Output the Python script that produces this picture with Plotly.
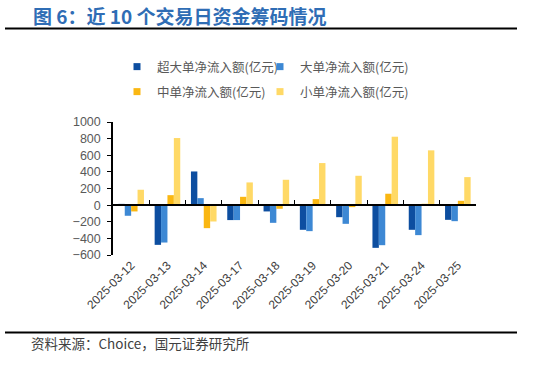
import plotly.graph_objects as go

dates = ["2025-03-12", "2025-03-13", "2025-03-14", "2025-03-17", "2025-03-18",
         "2025-03-19", "2025-03-20", "2025-03-21", "2025-03-24", "2025-03-25"]
super_large = [15, -478, 405, -180, -76, -297, -145, -514, -297, -177]
large = [-128, -450, 84, -180, -213, -313, -225, -482, -361, -193]
medium = [-76, 120, -277, 100, -44, 72, -24, 137, 16, 52]
small = [185, 807, -197, 273, 305, 506, 353, 823, 659, 337]

names = ["超大单净流入额(亿元)", "大单净流入额(亿元)", "中单净流入额(亿元)", "小单净流入额(亿元)"]
colors = ["#0D4EA0", "#3D88D4", "#FAB712", "#FFD966"]
series = [super_large, large, medium, small]
legend_ids = ["legend", "legend2", "legend3", "legend4"]

W, H = 533, 367
L, R, T, B = 113, 57, 122, 112
PW, PH = W - L - R, H - T - B

def px(x):
    return (x - L) / PW

def py(y):
    return (H - B - y) / PH

fig = go.Figure()
for name, col, vals in zip(names, colors, series):
    fig.add_trace(go.Bar(x=dates, y=vals, name=name, marker_color=col,
                         marker_line_width=0, showlegend=False))
# legend proxies
for name, col, lg in zip(names, colors, legend_ids):
    fig.add_trace(go.Scatter(x=[None], y=[None], mode="markers", name=name,
                             marker=dict(symbol="square", size=7, color=col),
                             legend=lg, showlegend=True))
# helper trace for the zero-crossing category axis
fig.add_trace(go.Scatter(x=[None], y=[None], xaxis="x2", showlegend=False,
                         hoverinfo="skip"))

axis_font = dict(family="Arial, Liberation Sans, sans-serif", size=12.5, color="#595959")
leg_font = dict(family="Noto Sans CJK SC", size=12.5, color="#595959")

def leg(xp, yp):
    return dict(orientation="h", x=px(xp), y=py(yp), xanchor="left", yanchor="middle",
                bgcolor="rgba(0,0,0,0)", font=leg_font, itemclick=False,
                borderwidth=0)

fig.update_layout(
    width=W, height=H,
    margin=dict(l=L, r=R, t=T, b=B, autoexpand=False),
    paper_bgcolor="white", plot_bgcolor="white",
    barmode="group", bargap=0.295, bargroupgap=0,
    xaxis=dict(type="category", range=[-0.5, 9.5], showline=False, ticks="",
               showgrid=False, tickangle=-45,
               tickfont=dict(family="Arial, Liberation Sans, sans-serif", size=12, color="#404040")),
    xaxis2=dict(overlaying="x", anchor="free", position=0.375, range=[-0.5, 9.5],
                tickvals=[i - 0.5 for i in range(11)], showticklabels=False,
                ticks="inside", ticklen=4, tickwidth=1, tickcolor="black",
                showline=True, linecolor="black", linewidth=1.5, showgrid=False,
                zeroline=False),
    yaxis=dict(range=[-600, 1000], dtick=200, showgrid=False, zeroline=False,
               showline=True, linecolor="black", linewidth=1.5,
               ticks="outside", ticklen=4, tickcolor="black", tickwidth=1,
               tickfont=axis_font, ticklabelstandoff=4),
    legend=leg(117, 67),
    legend2=leg(260, 67),
    legend3=leg(117, 92),
    legend4=leg(260, 92),
    showlegend=True,
)

fig.add_annotation(text="<b>图 6：近 10 个交易日资金筹码情况</b>", xref="paper", yref="paper",
                   x=px(31), y=py(15), xanchor="left", yanchor="middle", showarrow=False,
                   font=dict(family="Noto Sans CJK SC", size=19, color="#2F6DB5"))
fig.add_annotation(text="资料来源：Choice，国元证券研究所", xref="paper", yref="paper",
                   x=px(29), y=py(343), xanchor="left", yanchor="middle", showarrow=False,
                   font=dict(family="Noto Sans CJK SC", size=13.5, color="#404040"))

fig.add_shape(type="line", xref="paper", yref="paper", x0=px(5), x1=px(517),
              y0=py(28.5), y1=py(28.5), line=dict(color="black", width=2.2))
fig.add_shape(type="line", xref="paper", yref="paper", x0=px(5), x1=px(517),
              y0=py(332.5), y1=py(332.5), line=dict(color="black", width=2.2))

fig.write_html("out.html", config={"displayModeBar": False},
               post_script="document.body.style.margin='0';")
